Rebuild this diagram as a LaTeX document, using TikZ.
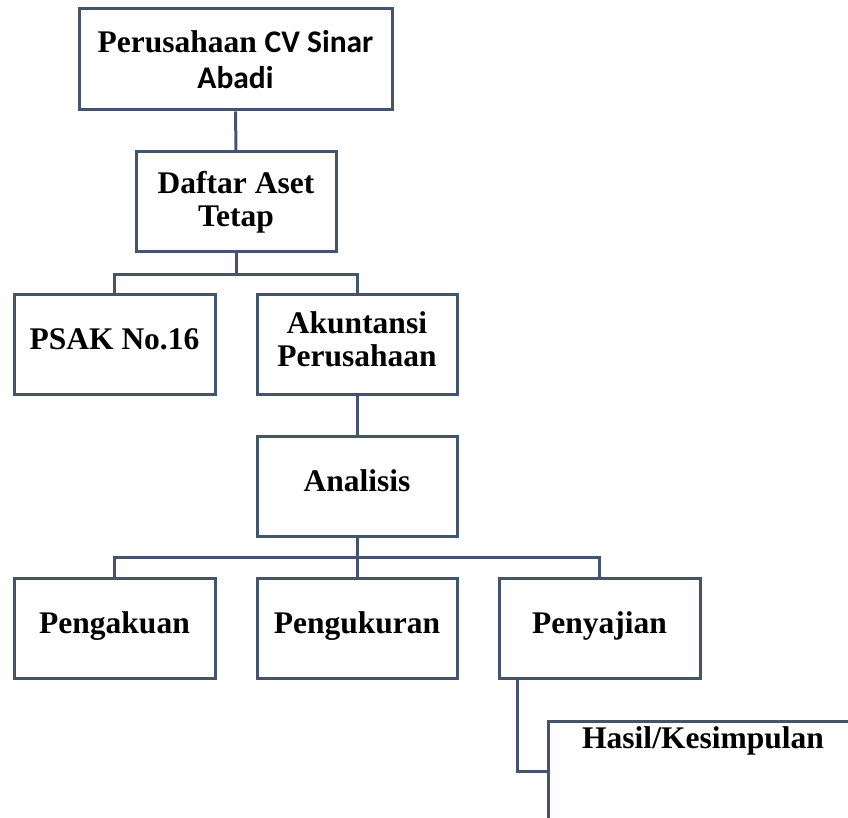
\documentclass[tikz,border=0pt]{standalone}
\usepackage{fontspec}
\setmainfont{Liberation Serif}
\newfontfamily\calfont{Carlito}
\definecolor{linec}{HTML}{44546A}
\begin{document}
\begin{tikzpicture}[x=1pt,y=-1pt,
  boxs/.style={draw=linec,line width=3pt,rectangle,inner sep=0pt,
    minimum width=200pt,minimum height=100pt,
    font=\fontsize{31.5}{33}\selectfont\bfseries,align=center},
  oneline/.style={boxs,text height=22pt,text depth=12pt},
  conn/.style={draw=linec,line width=3pt}]
\useasboundingbox (0,0) rectangle (848,818);
\clip (0,0) rectangle (848,818);
\node[boxs,minimum width=313pt,minimum height=101pt,
  font=\fontsize{31.5}{36}\selectfont\bfseries] (top) at (235.5,59.5)
  {Perusahaan {\calfont CV Sinar}\\{\calfont Abadi}};
\node[boxs] (daftar) at (236,202) {Daftar Aset\\Tetap};
\node[oneline,minimum width=201pt] (psak) at (114.5,344) {PSAK No.16};
\node[boxs] (akun) at (357,344) {Akuntansi\\Perusahaan\rule[-10pt]{0pt}{0pt}};
\node[oneline] (anal) at (357,486.5) {Analisis};
\node[oneline,minimum width=201pt] (peng) at (114.5,628) {Pengakuan};
\node[oneline] (ukur) at (357,628) {Pengukuran};
\node[oneline,minimum width=201pt] (saji) at (599.5,628) {Penyajian};
\node[boxs,minimum width=310pt,minimum height=100pt,text height=22pt,text depth=68pt]
  (hasil) at (703,771) {Hasil/Kesimpulan};
\coordinate (j1) at (236,274);
\coordinate (j2) at (357,557);
\draw[conn] (top.south) -- (daftar.north);
\draw[conn] (daftar.south) -- (j1);
\draw[conn] (j1) -| (psak.north);
\draw[conn] (j1) -| (akun.north);
\draw[conn] (akun.south) -- (anal.north);
\draw[conn] (anal.south) -- (j2);
\draw[conn] (j2) -| (peng.north);
\draw[conn] (j2) -- (ukur.north);
\draw[conn] (j2) -| (saji.north);
\draw[conn] ([xshift=20pt]saji.south west) |- (hasil.west);
\end{tikzpicture}
\end{document}
